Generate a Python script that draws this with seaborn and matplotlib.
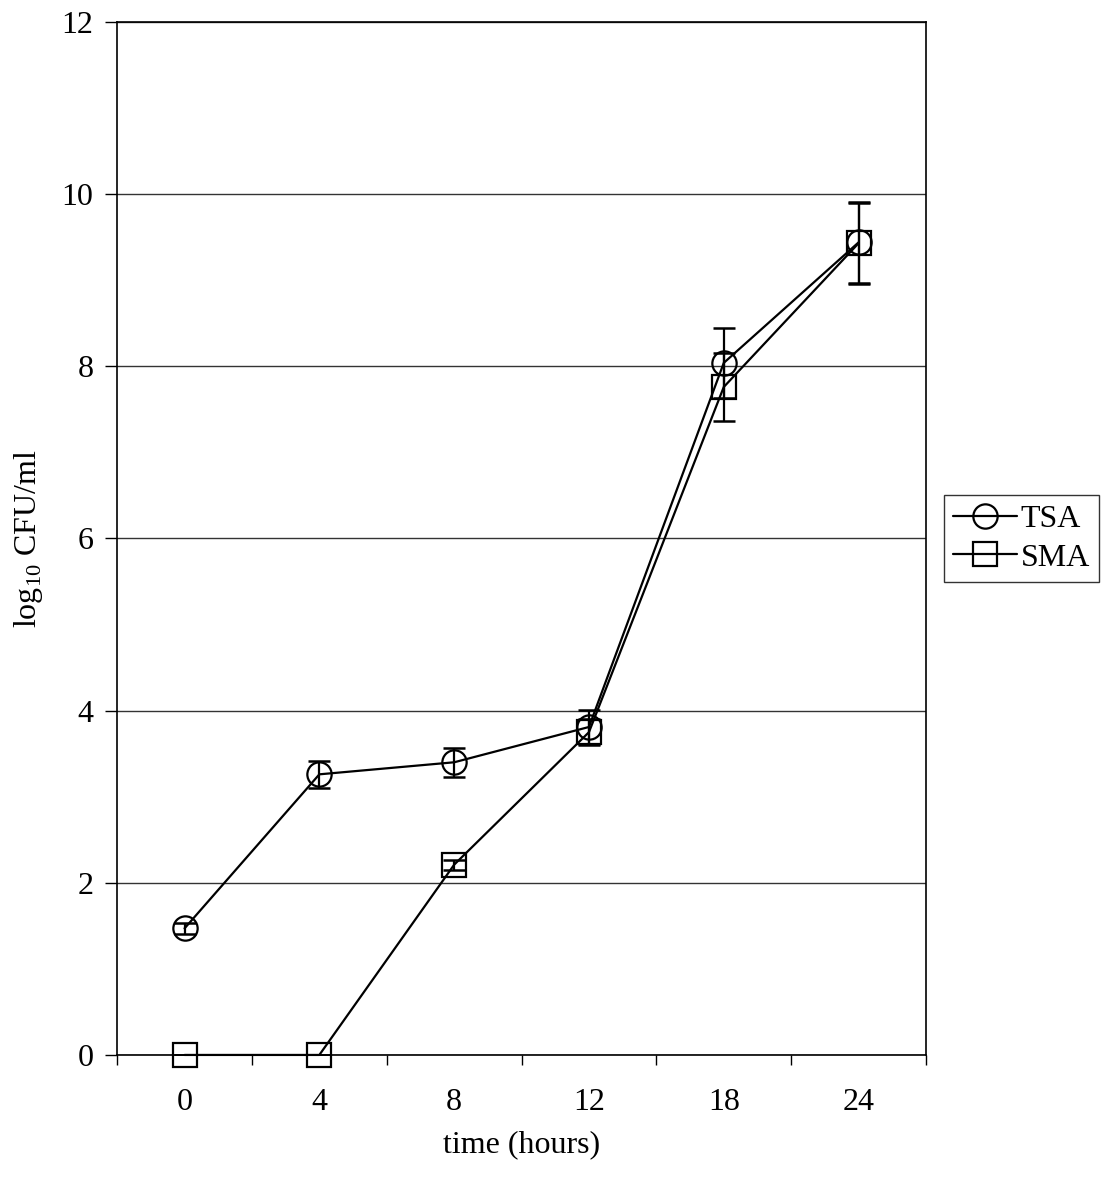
import pandas as pd
import matplotlib
matplotlib.use("Agg")
import matplotlib.pyplot as plt
import seaborn as sns
import numpy as np

# data
times = ["0", "4", "8", "12", "18", "24"]
tsa = [1.47, 3.26, 3.40, 3.81, 8.04, 9.44]
tsa_err = [0.06, 0.16, 0.17, 0.20, 0.41, 0.47]
sma = [0.0, 0.0, 2.21, 3.75, 7.76, 9.43]
sma_err = [0.0, 0.0, 0.06, 0.15, 0.39, 0.47]

df = pd.DataFrame({
    "pos": list(range(len(times))) * 2,
    "value": tsa + sma,
    "err": tsa_err + sma_err,
    "medium": ["TSA"] * len(times) + ["SMA"] * len(times),
})

sns.set_style("white")
plt.rcParams["font.family"] = ["Liberation Serif", "DejaVu Serif"]
plt.rcParams["mathtext.fontset"] = "custom"
plt.rcParams["mathtext.rm"] = "Liberation Serif"
plt.rcParams["text.color"] = "black"
plt.rcParams["axes.labelcolor"] = "black"
plt.rcParams["xtick.color"] = "black"
plt.rcParams["ytick.color"] = "black"

fig = plt.figure(figsize=(11.05, 11.77), dpi=100)
ax = fig.add_axes([0.106, 0.1037, 0.732, 0.8776])

# error bars first, markers on top
for name in ["TSA", "SMA"]:
    sub = df[df["medium"] == name]
    ax.errorbar(sub["pos"], sub["value"], yerr=sub["err"], fmt="none",
                ecolor="black", elinewidth=1.6, capsize=8, capthick=1.8, zorder=3)

sns.lineplot(data=df, x="pos", y="value", style="medium", markers={"TSA": "o", "SMA": "s"},
             dashes=False, color="black", linewidth=1.6, markersize=17.5,
             markerfacecolor="none", markeredgecolor="black", markeredgewidth=1.6,
             ax=ax, zorder=4, clip_on=False)

ax.set_xlim(-0.5, 5.5)
ax.set_ylim(0, 12)
ax.set_yticks(np.arange(0, 13, 2))
ax.set_xticks(range(len(times)))
ax.set_xticklabels(times)
# category boundary ticks, Excel style
ax.set_xticks(np.arange(-0.5, 6.0, 1.0), minor=True)
ax.tick_params(axis="x", which="major", bottom=True, length=0, labelsize=23, pad=24)
ax.tick_params(axis="x", which="minor", bottom=True, length=7, width=1, direction="out", color="black")
ax.tick_params(axis="y", left=True, length=9, width=1, direction="out", color="black", labelsize=23, pad=8)
ax.yaxis.grid(True, color="#333333", linewidth=1)
ax.set_axisbelow(True)

for s in ax.spines.values():
    s.set_color("black")
    s.set_linewidth(1.2)

ax.set_xlabel("time (hours)", fontsize=23, labelpad=9)
ax.set_ylabel(r"log$_{10}$ CFU/ml", fontsize=23, labelpad=12)

leg = ax.legend(loc="center left", bbox_to_anchor=(1.022, 0.5), frameon=True, fancybox=False,
                edgecolor="black", fontsize=23, handlelength=2.0, handletextpad=0.1,
                borderpad=0.3, labelspacing=0.3, borderaxespad=0)
leg.get_frame().set_linewidth(1.0)

fig.savefig("out.png", dpi=100, facecolor="white")
